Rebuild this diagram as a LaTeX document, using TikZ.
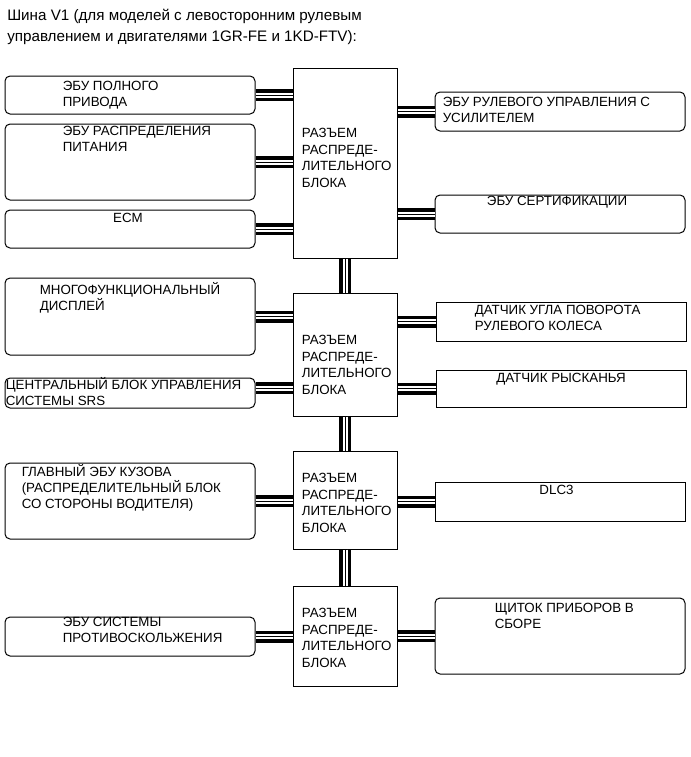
\documentclass[tikz,border=0pt]{standalone}
\usepackage{fontspec}
\setmainfont{Liberation Sans}
\usetikzlibrary{calc}

\begin{document}
\begin{tikzpicture}[x=0.75pt, y=-0.75pt,
  ecu/.style={draw, line width=0.75pt, rounded corners=3.75pt, minimum width=187.5pt, inner sep=0pt},
  sensor/.style={draw, line width=0.75pt, minimum width=187.5pt, inner sep=0pt},
  jbox/.style={draw, line width=0.75pt, minimum width=78pt, inner sep=0pt},
  lbl/.style={inner sep=0pt, align=left, font=\fontsize{10pt}{12pt}\selectfont},
  jlbl/.style={lbl, font=\fontsize{10pt}{12.4pt}\selectfont},
  bus/.style={line width=0.75pt, preaction={draw, line width=9pt}, preaction={draw=white, line width=3.75pt}}]
  \useasboundingbox (0,0) rectangle (691,757);
  \node[anchor=base west, inner sep=0pt, align=left, font=\fontsize{11.4pt}{15.5pt}\selectfont] (title) at (7,41)
    {Шина V1 (для моделей с левосторонним рулевым\\управлением и двигателями 1GR-FE и 1KD-FTV):};
  % connectors blocks
  \node[jbox, minimum height=142.5pt] (jb1) at (345,163) {};
  \node[jbox, minimum height=92.25pt] (jb2) at (345,354.5) {};
  \node[jbox, minimum height=73.5pt] (jb3) at (345,500) {};
  \node[jbox, minimum height=75pt] (jb4) at (345,636) {};
  \foreach \j/\dy in {jb1/119.6, jb2/101.6, jb3/81.6, jb4/81.6}
    \node[jlbl, anchor=base west] (\j txt) at ($(\j.north west)+(9,\dy)$) {РАЗЪЕМ\\РАСПРЕДЕ-\\ЛИТЕЛЬНОГО\\БЛОКА};
  % left side
  \node[ecu, minimum height=28.5pt] (awd) at (130,95) {};
  \node[ecu, minimum height=57pt] (power) at (130,162) {};
  \node[ecu, minimum height=28.5pt] (ecm) at (130,229) {};
  \node[ecu, minimum height=57.75pt] (mfd) at (130,316.5) {};
  \node[ecu, minimum height=22.5pt] (srs) at (130,393) {};
  \node[ecu, minimum height=57pt] (body) at (130,501) {};
  \node[ecu, minimum height=29.25pt] (vsc) at (130,636.5) {};
  \node[lbl, anchor=base west] (awdtxt) at ($(awd.north west)+(58,31)$) {ЭБУ ПОЛНОГО\\ПРИВОДА};
  \node[lbl, anchor=base west] (powertxt) at ($(power.north west)+(58,28)$) {ЭБУ РАСПРЕДЕЛЕНИЯ\\ПИТАНИЯ};
  \node[lbl, anchor=base] (ecmtxt) at ($(ecm.north)+(-2,13)$) {ECM};
  \node[lbl, anchor=base west] (mfdtxt) at ($(mfd.north west)+(35,33)$) {МНОГОФУНКЦИОНАЛЬНЫЙ\\ДИСПЛЕЙ};
  \node[lbl, anchor=base west] (srstxt) at ($(srs.north west)+(1,28)$) {ЦЕНТРАЛЬНЫЙ БЛОК УПРАВЛЕНИЯ\\СИСТЕМЫ SRS};
  \node[lbl, anchor=base west] (bodytxt) at ($(body.north west)+(17,45.7)$) {ГЛАВНЫЙ ЭБУ КУЗОВА\\(РАСПРЕДЕЛИТЕЛЬНЫЙ БЛОК\\СО СТОРОНЫ ВОДИТЕЛЯ)};
  \node[lbl, anchor=base west] (vsctxt) at ($(vsc.north west)+(58,25.7)$) {ЭБУ СИСТЕМЫ\\ПРОТИВОСКОЛЬЖЕНИЯ};
  % right side
  \node[ecu, minimum height=29.25pt] (eps) at (560,111.5) {};
  \node[ecu, minimum height=28.5pt] (cert) at (560,214) {};
  \node[sensor, minimum height=29.25pt] (steer) at (561,321.5) {};
  \node[sensor, minimum height=27.75pt] (yaw) at (561,388.5) {};
  \node[sensor, minimum height=29.25pt] (dlc) at (560.5,501.5) {};
  \node[ecu, minimum height=57pt] (meter) at (560,636) {};
  \node[lbl, anchor=base west] (epstxt) at ($(eps.north west)+(8,30.7)$) {ЭБУ РУЛЕВОГО УПРАВЛЕНИЯ С\\УСИЛИТЕЛЕМ};
  \node[lbl, anchor=base] (certtxt) at ($(cert.north)+(-3,10.7)$) {ЭБУ СЕРТИФИКАЦИИ};
  \node[lbl, anchor=base west] (steertxt) at ($(steer.north west)+(39,29)$) {ДАТЧИК УГЛА ПОВОРОТА\\РУЛЕВОГО КОЛЕСА};
  \node[lbl, anchor=base] (yawtxt) at ($(yaw.north)+(0,13)$) {ДАТЧИК РЫСКАНЬЯ};
  \node[lbl, anchor=base] (dlctxt) at ($(dlc.north)+(-4,13)$) {DLC3};
  \node[lbl, anchor=base west] (metertxt) at ($(meter.north west)+(60,31)$) {ЩИТОК ПРИБОРОВ В\\СБОРЕ};
  % buses
  \draw[bus] (jb1.south) -- (jb2.north);
  \draw[bus] (jb2.south) -- (jb3.north);
  \draw[bus] (jb3.south) -- (jb4.north);
  \foreach \n/\j in {awd/jb1, power/jb1, ecm/jb1, mfd/jb2, body/jb3, vsc/jb4}
    \draw[bus] (\n.east) -- (\n.east -| \j.west);
  \draw[bus] ([yshift=3.4pt]srs.east) -- ([yshift=3.4pt]srs.east -| jb2.west);
  \foreach \n/\j in {eps/jb1, cert/jb1, steer/jb2, yaw/jb2, dlc/jb3, meter/jb4}
    \draw[bus] (\n.west) -- (\n.west -| \j.east);
\end{tikzpicture}
\end{document}
